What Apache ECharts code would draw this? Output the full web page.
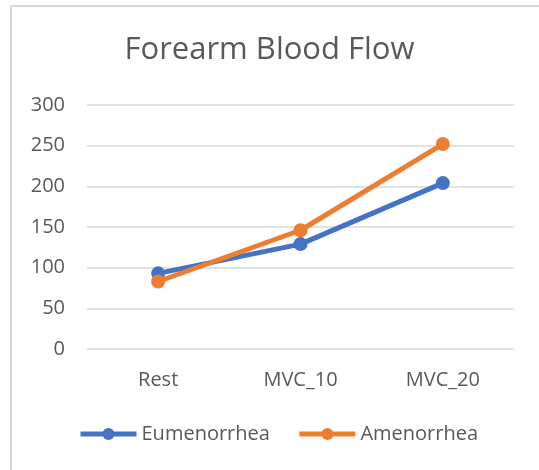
<!DOCTYPE html>
<html><head><meta charset="utf-8">
<script src="https://cdn.jsdelivr.net/npm/echarts@6/dist/echarts.min.js"></script>
<style>html,body{margin:0;padding:0;background:#fff}#c{width:539px;height:470px}</style>
</head><body><div id="c"></div>
<script>
const titleText = 'Forearm Blood Flow';
const categories = ['Rest', 'MVC_10', 'MVC_20'];
const seriesNames = ['Eumenorrhea', 'Amenorrhea'];
const eumenorrhea = [93, 129, 204];
const amenorrhea = [83, 146, 252];
const yTicks = [0, 50, 100, 150, 200, 250, 300];

const FONT = 'Open Sans';
const TXT = '#595959';
const chart = echarts.init(document.getElementById('c'), null, {renderer: 'canvas'});
const mk = (name, data, color) => ({
  name, type: 'line', data,
  symbol: 'circle', symbolSize: 14,
  lineStyle: {width: 5, color},
  itemStyle: {color},
  emphasis: {disabled: true},
  animation: false
});
chart.setOption({
  animation: false,
  graphic: [{type: 'rect', shape: {x: 11, y: 6, width: 600, height: 600}, style: {fill: 'none', stroke: '#d9d9d9', lineWidth: 2}, silent: true}],
  title: {text: titleText, left: 'center', top: 30, textStyle: {fontFamily: FONT, fontWeight: 'normal', fontSize: 31, color: TXT}},
  grid: {left: 87, right: 25, top: 105, bottom: 121},
  legend: {
    data: seriesNames, left: 78, top: 424, padding: 0, itemWidth: 56, itemHeight: 15, itemGap: 27,
    lineStyle: {width: 5},
    textStyle: {fontFamily: FONT, fontSize: 20, color: TXT, padding: [0, 0, 0, 0]}
  },
  xAxis: {
    type: 'category', data: categories, boundaryGap: true,
    axisLine: {show: false}, axisTick: {show: false},
    axisLabel: {fontFamily: FONT, fontSize: 20, color: TXT, margin: 21}
  },
  yAxis: {
    type: 'value', min: yTicks[0], max: yTicks[yTicks.length - 1], interval: yTicks[1] - yTicks[0],
    axisLine: {show: false}, axisTick: {show: false},
    axisLabel: {fontFamily: FONT, fontSize: 20, color: TXT, margin: 22},
    splitLine: {lineStyle: {color: '#d9d9d9', width: 1.5}}
  },
  series: [mk(seriesNames[0], eumenorrhea, '#4472C4'), mk(seriesNames[1], amenorrhea, '#ED7D31')]
});
</script></body></html>
